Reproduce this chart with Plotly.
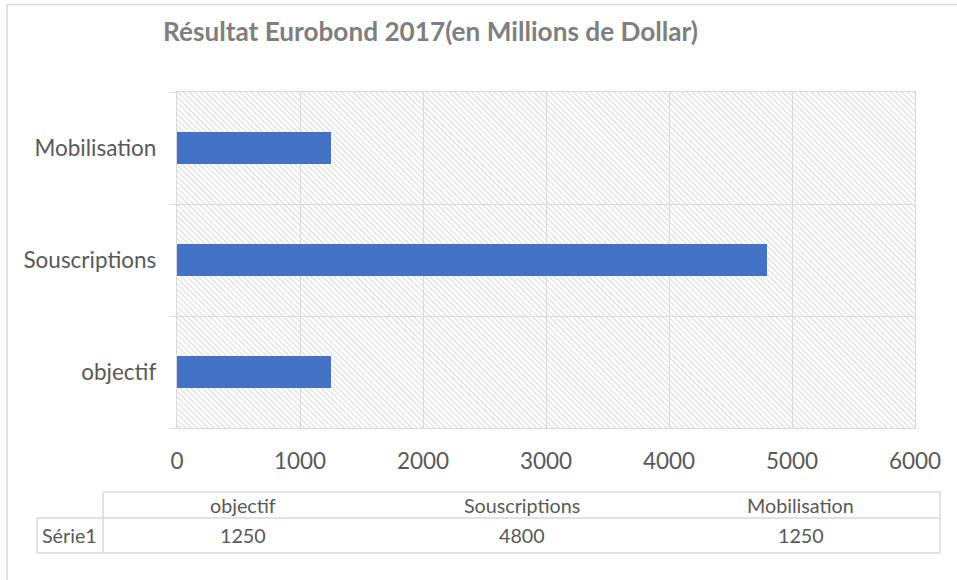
import base64
import plotly.graph_objects as go

# ---- data ----
categories = ["objectif", "Souscriptions", "Mobilisation"]
values = [1250, 4800, 1250]
series_name = "Série1"
x_ticks = [0, 1000, 2000, 3000, 4000, 5000, 6000]
title_text = "Résultat Eurobond 2017(en Millions de Dollar)"

W, H = 957, 580
L, R, T, B = 177, 915, 92, 428   # plot area in pixels
PW, PH = R - L, B - T
GRID = "#d9d9d9"
TXT = "#595959"
FONT = "Lato, 'Open Sans', sans-serif"


def px(xp):
    """pixel x -> paper coordinate"""
    return (xp - L) / PW


def py(yp):
    """pixel y -> paper coordinate"""
    return (B - yp) / PH


# hatched background (light downward diagonal)
svg = (
    f'<svg xmlns="http://www.w3.org/2000/svg" width="{PW}" height="{PH}" '
    f'viewBox="0 0 {PW} {PH}" preserveAspectRatio="none">'
    '<defs><pattern id="h" width="4" height="4" patternUnits="userSpaceOnUse" '
    'patternTransform="rotate(-45)">'
    '<line x1="0" y1="0" x2="0" y2="4" stroke="#cccccc" stroke-width="1.4"/>'
    '</pattern></defs>'
    f'<rect width="{PW}" height="{PH}" fill="white"/>'
    f'<rect width="{PW}" height="{PH}" fill="url(#h)"/></svg>'
)
svg_uri = "data:image/svg+xml;base64," + base64.b64encode(svg.encode()).decode()

fig = go.Figure()
fig.add_trace(go.Bar(
    y=categories, x=values, orientation="h",
    marker=dict(color="#4472C4", line=dict(width=0)),
    width=0.29, name=series_name, showlegend=False,
))

shapes = []
# outer chart border (top & left)
shapes.append(dict(type="line", xref="paper", yref="paper",
                   x0=px(7), x1=px(960), y0=py(4.5), y1=py(4.5),
                   line=dict(color=GRID, width=1.5)))
shapes.append(dict(type="line", xref="paper", yref="paper",
                   x0=px(7), x1=px(7), y0=py(4.5), y1=py(585),
                   line=dict(color=GRID, width=1.5)))

# data table
tx0, tx1 = 103, 940
lx0 = 37
ty0, ty1, ty2 = 492, 518, 553
line_style = dict(color=GRID, width=1.5)
for (a, b, c, d) in [
    (tx0, ty0, tx1, ty0),      # header top
    (lx0, ty1, tx1, ty1),      # header bottom
    (lx0, ty2, tx1, ty2),      # table bottom
    (tx0, ty0, tx0, ty2),      # divider after series label
    (tx1, ty0, tx1, ty2),      # right edge
    (lx0, ty1, lx0, ty2),      # left edge of label cell
]:
    shapes.append(dict(type="line", xref="paper", yref="paper",
                       x0=px(a), x1=px(c), y0=py(b), y1=py(d), line=line_style))

TBL = 19.7
annotations = []
colw = (tx1 - tx0) / len(categories)
for i, (cat, v) in enumerate(zip(categories, values)):
    cx = tx0 + colw * (i + 0.5)
    annotations.append(dict(xref="paper", yref="paper", x=px(cx), y=py((ty0 + ty1) / 2),
                            text=cat, showarrow=False, xanchor="center", yanchor="middle",
                            font=dict(size=TBL, color=TXT, family=FONT)))
    annotations.append(dict(xref="paper", yref="paper", x=px(cx), y=py((ty1 + ty2) / 2),
                            text=str(v), showarrow=False, xanchor="center", yanchor="middle",
                            font=dict(size=TBL, color=TXT, family=FONT)))
annotations.append(dict(xref="paper", yref="paper", x=px((lx0 + tx0) / 2), y=py((ty1 + ty2) / 2),
                        text=series_name, showarrow=False, xanchor="center", yanchor="middle",
                        font=dict(size=TBL, color=TXT, family=FONT)))
# title
annotations.append(dict(xref="paper", yref="paper", x=px(430), y=py(31),
                        text=f"<b>{title_text}</b>", showarrow=False,
                        xanchor="center", yanchor="middle",
                        font=dict(size=26.2, color="#7f7f7f", family=FONT)))

fig.update_layout(
    width=W, height=H,
    margin=dict(l=L, r=W - R, t=T, b=H - B, pad=0),
    paper_bgcolor="white",
    plot_bgcolor="rgba(0,0,0,0)",
    font=dict(family=FONT, color=TXT),
    bargap=0,
    images=[dict(source=svg_uri, xref="paper", yref="paper", x=0, y=1,
                 sizex=1, sizey=1, sizing="stretch", xanchor="left", yanchor="top",
                 layer="below")],
    shapes=shapes,
    annotations=annotations,
    xaxis=dict(
        range=[0, 6000], tickvals=x_ticks, ticktext=[str(t) for t in x_ticks],
        showgrid=True, gridcolor=GRID, gridwidth=1.3,
        zeroline=False, showline=True, linecolor=GRID, linewidth=1.3, mirror=True,
        ticks="", ticklabelstandoff=13,
        tickfont=dict(size=22.5, color=TXT, family=FONT), fixedrange=True,
    ),
    yaxis=dict(
        type="category", categoryorder="array", categoryarray=categories,
        range=[-0.5, 2.5], tickson="boundaries",
        showgrid=True, gridcolor=GRID, gridwidth=1.3,
        showline=True, linecolor=GRID, linewidth=1.3, mirror=True,
        ticks="outside", ticklen=7, tickcolor=GRID, tickwidth=1.3,
        ticklabelstandoff=15,
        tickfont=dict(size=22.5, color=TXT, family=FONT), fixedrange=True,
    ),
)

fig.write_html(
    "out.html",
    config={"displayModeBar": False},
    post_script="document.body.style.margin='0';document.body.style.overflow='hidden';",
)
